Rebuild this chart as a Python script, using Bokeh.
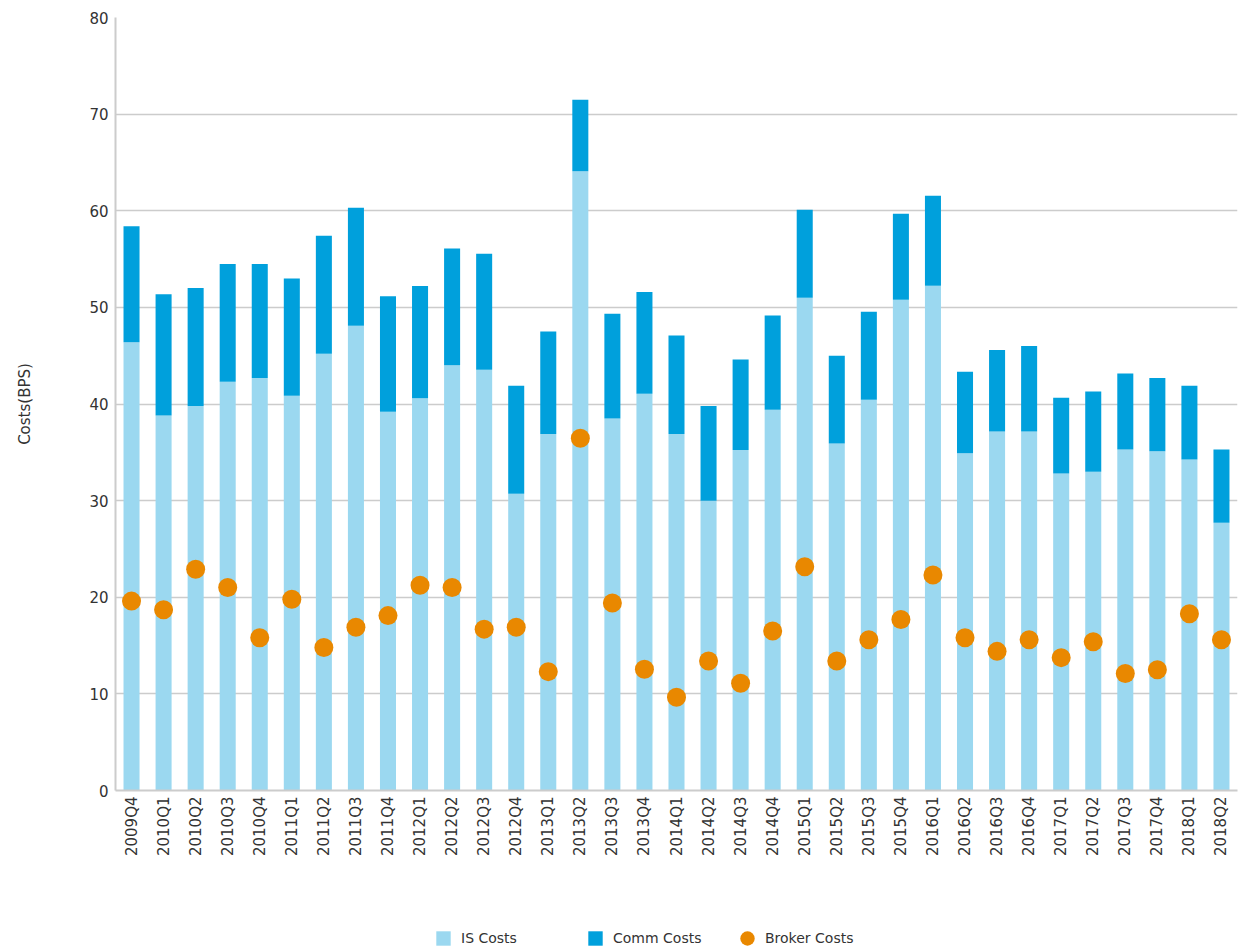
import math
from bokeh.plotting import figure
from bokeh.layouts import column
from bokeh.models import Range1d, FactorRange, Legend, LegendItem, FixedTicker, ColumnDataSource
from bokeh.embed import file_html
from bokeh.resources import INLINE

quarters = ["2009Q4",
            "2010Q1", "2010Q2", "2010Q3", "2010Q4",
            "2011Q1", "2011Q2", "2011Q3", "2011Q4",
            "2012Q1", "2012Q2", "2012Q3", "2012Q4",
            "2013Q1", "2013Q2", "2013Q3", "2013Q4",
            "2014Q1", "2014Q2", "2014Q3", "2014Q4",
            "2015Q1", "2015Q2", "2015Q3", "2015Q4",
            "2016Q1", "2016Q2", "2016Q3", "2016Q4",
            "2017Q1", "2017Q2", "2017Q3", "2017Q4",
            "2018Q1", "2018Q2"]

is_costs = [46.4, 38.8, 39.8, 42.3, 42.7, 40.85, 45.2, 48.1, 39.2, 40.6, 44.0, 43.55,
            30.7, 36.9, 64.1, 38.5, 41.05, 36.9, 30.0, 35.25, 39.4, 51.0, 35.9, 40.45,
            50.8, 52.25, 34.9, 37.15, 37.15, 32.8, 33.0, 35.3, 35.1, 34.25, 27.7]

comm_costs = [12.0, 12.55, 12.2, 12.2, 11.8, 12.15, 12.2, 12.2, 11.95, 11.6, 12.1, 12.0,
              11.2, 10.6, 7.4, 10.85, 10.55, 10.2, 9.8, 9.35, 9.75, 9.1, 9.1, 9.1,
              8.9, 9.3, 8.45, 8.45, 8.85, 7.85, 8.3, 7.85, 7.6, 7.65, 7.6]

broker_costs = [19.6, 18.7, 22.9, 21.0, 15.8, 19.8, 14.8, 16.9, 18.1, 21.25, 21.0, 16.7,
                16.9, 12.3, 36.45, 19.4, 12.55, 9.65, 13.4, 11.1, 16.5, 23.15, 13.4, 15.6,
                17.7, 22.3, 15.8, 14.4, 15.6, 13.75, 15.4, 12.1, 12.5, 18.3, 15.6]

y_ticks = [0, 10, 20, 30, 40, 50, 60, 70, 80]
series_labels = ["IS Costs", "Comm Costs", "Broker Costs"]

IS_COLOR = "#9bd8f0"
COMM_COLOR = "#00a0dc"
BROKER_COLOR = "#e98800"
FONT = "DejaVu Sans"
TEXT_COLOR = "#333333"

src = ColumnDataSource(dict(q=quarters, is_costs=is_costs, comm_costs=comm_costs,
                            broker=broker_costs))


def add_glyphs(fig):
    bars = fig.vbar_stack(["is_costs", "comm_costs"], x="q", width=0.5, source=src,
                          fill_color=[IS_COLOR, COMM_COLOR], line_color=None)
    dots = fig.ellipse(x="q", y="broker", width=19, height=19,
                       width_units="screen", height_units="screen", source=src,
                       fill_color=BROKER_COLOR, line_color=None)
    return bars, dots


# ---- main chart ----
p = figure(width=1238, height=870,
           x_range=FactorRange(factors=quarters, range_padding=0),
           y_range=Range1d(0, 80),
           output_backend="svg", toolbar_location=None,
           min_border_left=115, min_border_right=1, min_border_top=17,
           min_border_bottom=80)
add_glyphs(p)

p.outline_line_color = None
p.xgrid.grid_line_color = None
p.ygrid.grid_line_color = "#cccccc"
p.ygrid.grid_line_width = 1.5
p.yaxis.ticker = FixedTicker(ticks=y_ticks)

for ax in (p.xaxis[0], p.yaxis[0]):
    ax.axis_line_color = "#cccccc"
    ax.axis_line_width = 2
    ax.major_tick_line_color = None
    ax.minor_tick_line_color = None
    ax.major_tick_out = 0
    ax.major_tick_in = 0
    ax.major_label_text_font = FONT
    ax.major_label_text_color = TEXT_COLOR

p.yaxis.major_label_text_font_size = "15px"
p.yaxis.major_label_standoff = 7
p.yaxis.axis_label = "Costs(BPS)"
p.yaxis.axis_label_text_font = FONT
p.yaxis.axis_label_text_font_size = "15px"
p.yaxis.axis_label_text_font_style = "normal"
p.yaxis.axis_label_text_color = TEXT_COLOR
p.yaxis.axis_label_standoff = 52

p.xaxis.major_label_orientation = math.pi / 2
p.xaxis.major_label_text_font_size = "15px"
p.xaxis.major_label_standoff = 6

# ---- legend strip (its glyphs sit outside the visible range; only the legend shows) ----
lg = figure(width=1238, height=78,
            x_range=FactorRange(factors=quarters, range_padding=0),
            y_range=Range1d(1000, 1001),
            output_backend="svg", toolbar_location=None,
            x_axis_location=None, y_axis_location=None,
            min_border_left=0, min_border_right=0, min_border_top=0,
            min_border_bottom=0)
lg.outline_line_color = None
lg.xgrid.grid_line_color = None
lg.ygrid.grid_line_color = None
lbars, ldots = add_glyphs(lg)

legend = Legend(items=[LegendItem(label=series_labels[0], renderers=[lbars[0]]),
                       LegendItem(label=series_labels[1], renderers=[lbars[1]]),
                       LegendItem(label=series_labels[2], renderers=[ldots])],
                orientation="horizontal", location=(319, 1),
                glyph_width=18, glyph_height=18, label_height=18,
                label_width=125, label_standoff=9, spacing=0,
                padding=0, margin=0, border_line_color=None,
                background_fill_alpha=0,
                label_text_font=FONT, label_text_font_size="14px",
                label_text_color=TEXT_COLOR)
lg.add_layout(legend, "center")

layout = column(p, lg, spacing=0)
open("out.html", "w").write(file_html(layout, INLINE))
